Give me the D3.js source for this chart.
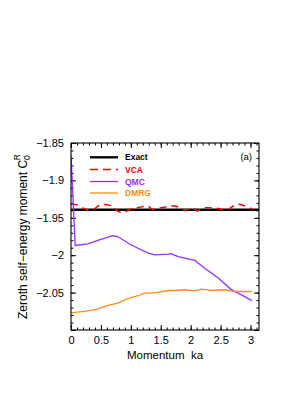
<!DOCTYPE html>
<html><head><meta charset="utf-8">
<script src="https://cdn.jsdelivr.net/npm/d3@7"></script>
<style>
body{margin:0;background:#fff;}
svg{display:block;font-family:"Liberation Sans",Arial,Helvetica,sans-serif;}
</style></head>
<body>
<svg id="c" width="281" height="398"></svg>
<script>
// ---- data ----
const exactValue = -1.9393;
const vcaK = [0,0.083,0.167,0.25,0.35,0.433,0.5,0.567,0.65,0.717,0.783,0.867,0.983,1.1,1.183,1.283,1.367,1.45,1.533,1.6,1.667,1.717,1.8,1.9,2.0,2.05,2.1,2.167,2.233,2.317,2.4,2.483,2.567,2.65,2.733,2.817,2.9,2.983,3.033];
const vcaV = [-1.9314,-1.9324,-1.9354,-1.9388,-1.9401,-1.9354,-1.9328,-1.9321,-1.9334,-1.9354,-1.9414,-1.9428,-1.9388,-1.9368,-1.9354,-1.9345,-1.9388,-1.9372,-1.9361,-1.9352,-1.9348,-1.9338,-1.9358,-1.9394,-1.9381,-1.9374,-1.9408,-1.9388,-1.9364,-1.9364,-1.9368,-1.9378,-1.9408,-1.9374,-1.9334,-1.9318,-1.9341,-1.9365,-1.9388];
const qmcK = [0,0.07,0.28,0.5,0.7,0.78,1.0,1.28,1.4,1.62,1.67,1.79,2.07,2.23,2.46,2.68,2.85,3.02];
const qmcV = [-1.866,-1.987,-1.985,-1.979,-1.974,-1.975,-1.986,-1.997,-1.9995,-1.9986,-1.998,-2.0018,-2.007,-2.017,-2.0306,-2.046,-2.053,-2.0608];
const dmrgK = [0,0.06,0.23,0.45,0.56,0.78,0.95,1.12,1.23,1.34,1.45,1.62,1.73,1.9,2.07,2.18,2.35,2.57,2.73,3.02];
const dmrgV = [-2.077,-2.0765,-2.0752,-2.072,-2.0685,-2.064,-2.0582,-2.0542,-2.0506,-2.0506,-2.0498,-2.0472,-2.0472,-2.0462,-2.0476,-2.0453,-2.0472,-2.0462,-2.0485,-2.0485];
const xTicks = [0,0.5,1,1.5,2,2.5,3];
const yTicks = [-1.85,-1.9,-1.95,-2,-2.05,-2.1];
const yTickLabels = ["−1.85","−1.9","−1.95","−2","−2.05",""];
const legendNames = ["Exact","VCA","QMC","DMRG"];
const colors = {Exact:"#000000",VCA:"#ff0000",QMC:"#9430ff",DMRG:"#ff8a1f"};

// ---- layout ----
const L=71, R=259, T=143, B=330;
const svg = d3.select("#c");
const x = d3.scaleLinear().domain([0, Math.PI]).range([L, R]);
const y = d3.scaleLinear().domain([-2.1, -1.85]).range([B, T]);

const xMinor = d3.range(0, 3.15, 0.1).map(v=>+v.toFixed(2));
const yMinor = d3.range(-2.1, -1.849, 0.01).map(v=>+v.toFixed(3));

function styleAxis(g){
  g.select(".domain").remove();
  g.selectAll("line").attr("stroke","#000").attr("stroke-width",1);
  g.selectAll("text").attr("font-size","11px").attr("fill","#000").attr("font-family","'Liberation Sans',Arial,sans-serif");
}
// bottom
svg.append("g").attr("transform",`translate(0,${B})`)
  .call(d3.axisBottom(x).tickValues(xMinor).tickSize(-2.5).tickFormat("")).call(styleAxis);
svg.append("g").attr("transform",`translate(0,${B})`)
  .call(d3.axisBottom(x).tickValues(xTicks).tickSize(-5).tickPadding(6).tickFormat(d=>String(d))).call(styleAxis);
// top
svg.append("g").attr("transform",`translate(0,${T})`)
  .call(d3.axisTop(x).tickValues(xMinor).tickSize(-2.5).tickFormat("")).call(styleAxis);
svg.append("g").attr("transform",`translate(0,${T})`)
  .call(d3.axisTop(x).tickValues(xTicks).tickSize(-5).tickFormat("")).call(styleAxis);
// left
svg.append("g").attr("transform",`translate(${L},0)`)
  .call(d3.axisLeft(y).tickValues(yMinor).tickSize(-2.5).tickFormat("")).call(styleAxis);
svg.append("g").attr("transform",`translate(${L},0)`)
  .call(d3.axisLeft(y).tickValues(yTicks).tickSize(-5).tickPadding(7).tickFormat((d,i)=>yTickLabels[i])).call(styleAxis);
// right
svg.append("g").attr("transform",`translate(${R},0)`)
  .call(d3.axisRight(y).tickValues(yMinor).tickSize(-2.5).tickFormat("")).call(styleAxis);
svg.append("g").attr("transform",`translate(${R},0)`)
  .call(d3.axisRight(y).tickValues(yTicks).tickSize(-5).tickFormat("")).call(styleAxis);

// clip
svg.append("clipPath").attr("id","clip").append("rect").attr("x",L).attr("y",T).attr("width",R-L).attr("height",B-T);
const plot = svg.append("g").attr("clip-path","url(#clip)");
const line = d3.line().x(d=>x(d[0])).y(d=>y(d[1]));

plot.append("path").datum([[0,exactValue],[Math.PI,exactValue]]).attr("d",line)
  .attr("fill","none").attr("stroke",colors.Exact).attr("stroke-width",2.4);
plot.append("path").datum(vcaK.map((k,i)=>[k,vcaV[i]])).attr("d",line.curve(d3.curveMonotoneX))
  .attr("fill","none").attr("stroke",colors.VCA).attr("stroke-width",1.5).attr("stroke-dasharray","7,5");
line.curve(d3.curveLinear);
plot.append("path").datum(qmcK.map((k,i)=>[k,qmcV[i]])).attr("d",line)
  .attr("fill","none").attr("stroke",colors.QMC).attr("stroke-width",1.3);
plot.append("path").datum(dmrgK.map((k,i)=>[k,dmrgV[i]])).attr("d",line)
  .attr("fill","none").attr("stroke",colors.DMRG).attr("stroke-width",1.3);

// frame
svg.append("rect").attr("x",L).attr("y",T).attr("width",R-L).attr("height",B-T)
  .attr("fill","none").attr("stroke","#000").attr("stroke-width",1.1);

// legend
const legY = [157.3,169.5,181.5,193];
legendNames.forEach((n,i)=>{
  const ln = svg.append("line").attr("x1",90).attr("x2",118).attr("y1",legY[i]).attr("y2",legY[i])
    .attr("stroke",colors[n]).attr("stroke-width", n==="Exact"?2.4:1.3);
  if(n==="VCA") ln.attr("stroke-dasharray","8,5");
  svg.append("text").attr("x",125).attr("y",legY[i]+3).text(n)
    .attr("font-size","8.5px").attr("font-weight","bold").attr("fill",colors[n]);
});
svg.append("text").attr("x",252).attr("y",160).attr("text-anchor","end").attr("font-size","9.5px").text("(a)");

// axis titles
svg.append("text").attr("x",(L+R)/2).attr("y",359).attr("text-anchor","middle")
  .attr("font-size","11.5px").text("Momentum  ka").style("white-space","pre");
const yt = svg.append("text").attr("transform",`translate(27,${(T+B)/2}) rotate(-90)`)
  .attr("text-anchor","middle").attr("font-size","12px");
yt.append("tspan").text("Zeroth self−energy moment C");
yt.append("tspan").attr("dy",3).attr("font-size","8.5px").text("0");
yt.append("tspan").attr("dy",-10).attr("dx",-5).attr("font-size","8.5px").text("R");
</script>
</body></html>
